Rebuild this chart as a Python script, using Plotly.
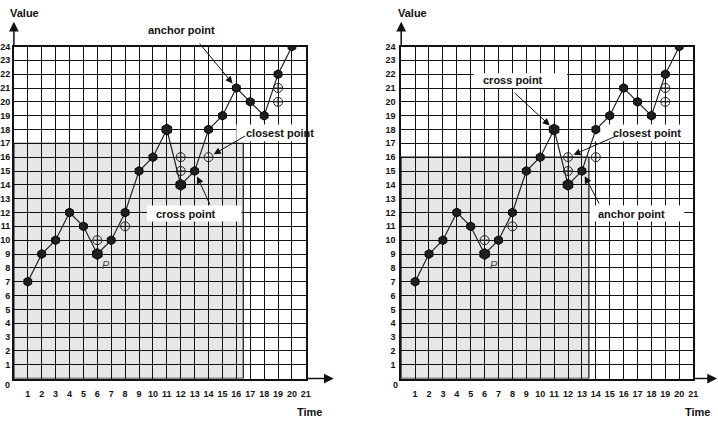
import plotly.graph_objects as go

# ---------------- data ----------------
time = list(range(1, 21))
values = [7, 9, 10, 12, 11, 9, 10, 12, 15, 16, 18, 14, 15, 18, 19, 21, 20, 19, 22, 24]
big_points = [6, 11, 12]          # time stamps drawn with a larger marker
cand_time = [6, 8, 12, 12, 14, 19, 19]
cand_value = [10, 11, 16, 15, 16, 21, 20]

x_ticks = list(range(1, 22))
y_ticks = list(range(1, 25))

# shaded region (time extent, value extent) for each panel
left_shade = (16.5, 17)
right_shade = (13.5, 16)

# annotations: (label, target time, target value, ax px, ay px)
left_notes = [("anchor point", 16, 21, -38, -46),
              ("closest point", 14, 16, 38, -22),
              ("cross point", 13, 15, 16, 35)]
right_notes = [("cross point", 11, 18, -41, -38),
               ("closest point", 12, 16, 50, -22),
               ("anchor point", 13, 15, 18, 34)]

W, H = 718, 422
FONT = "Liberation Sans, Arial, sans-serif"
UNIT = 14.0          # pixels per grid unit
ORIGIN_Y = 378


def px(x):
    return x / W


def py(y):
    return 1 - y / H


fig = go.Figure()

sizes = [11 if t in big_points else 9 for t in time]

for xa, ya in (("x", "y"), ("x2", "y2")):
    fig.add_trace(go.Scatter(
        x=cand_time, y=cand_value, mode="markers", xaxis=xa, yaxis=ya,
        marker=dict(symbol="circle-cross-open", size=9, color="#222",
                    line=dict(width=1, color="#222")),
        hoverinfo="skip", showlegend=False))
    fig.add_trace(go.Scatter(
        x=time, y=values, mode="lines+markers", xaxis=xa, yaxis=ya,
        line=dict(color="#222", width=1.2),
        marker=dict(symbol="hexagon", size=sizes, color="#1f1f1f", opacity=1,
                    line=dict(width=1, color="#000")),
        hoverinfo="skip", showlegend=False))

axis_common = dict(showgrid=True, gridcolor="#111", gridwidth=1.4,
                   showline=True, linecolor="#111", linewidth=1.5, mirror=True,
                   zeroline=False, ticks="", fixedrange=True,
                   tickfont=dict(family=FONT, size=9, color="#111", weight="bold"))

ydom = [(H - 378) / H, (H - 42) / H]
fig.update_layout(
    width=W, height=H,
    margin=dict(l=0, r=0, t=0, b=0),
    paper_bgcolor="white", plot_bgcolor="white",
    xaxis=dict(domain=[px(14), px(308)], range=[0, 21], tickvals=x_ticks,
               anchor="y", ticklabelstandoff=6, **axis_common),
    yaxis=dict(domain=ydom, range=[0, 24], tickvals=y_ticks,
               anchor="x", ticklabelstandoff=0, **axis_common),
    xaxis2=dict(domain=[px(404), px(698)], range=[0, 21], tickvals=x_ticks,
                anchor="y2", ticklabelstandoff=6, **axis_common),
    yaxis2=dict(domain=ydom, range=[0, 24], tickvals=y_ticks,
                anchor="x2", ticklabelstandoff=2, **axis_common),
)

# shaded regions
for (sx, sy), xr, yr in ((left_shade, "x", "y"), (right_shade, "x2", "y2")):
    fig.add_shape(type="rect", xref=xr, yref=yr, x0=0, y0=0, x1=sx, y1=sy,
                  fillcolor="#e6e6e6", line=dict(color="#222", width=1.3),
                  layer="below")

# white label boxes (pixel positions) - above the grid, below the data marks
boxes = [(14, "x", "y", (238, 121, 322, 138)), (14, "x", "y", (148, 203, 243, 219)),
         (404, "x2", "y2", (477, 69, 571, 84)), (404, "x2", "y2", (599, 121, 704, 138)),
         (404, "x2", "y2", (594, 203, 689, 219))]
for ox, xr, yr, (x0, y0, x1, y1) in boxes:
    fig.add_shape(type="rect", xref=xr, yref=yr,
                  x0=(x0 - ox) / UNIT, x1=(x1 - ox) / UNIT,
                  y0=(ORIGIN_Y - y1) / UNIT, y1=(ORIGIN_Y - y0) / UNIT,
                  fillcolor="white", line=dict(width=0), layer="between")

label_font = dict(family=FONT, size=11, color="#111", weight="bold")

# label text positions (pixel centres)
label_pos = {("L", "anchor point"): (183, 25), ("L", "closest point"): (282, 130),
             ("L", "cross point"): (187, 211), ("R", "cross point"): (517, 76),
             ("R", "closest point"): (652, 130), ("R", "anchor point"): (636, 211)}

for side, notes, xr, yr in (("L", left_notes, "x", "y"), ("R", right_notes, "x2", "y2")):
    for label, tx, ty, ax, ay in notes:
        fig.add_annotation(x=tx, y=ty, xref=xr, yref=yr, text="", showarrow=True,
                           ax=ax, ay=ay, arrowhead=2, arrowsize=1.4,
                           arrowwidth=1, arrowcolor="#111", standoff=6)
        cx, cy = label_pos[(side, label)]
        fig.add_annotation(x=px(cx), y=py(cy), xref="paper", yref="paper",
                           text=label, showarrow=False, font=label_font,
                           xanchor="center", yanchor="middle")

# axis arrows, titles, origin labels and P markers
for ox, tip_x, tx in ((14, 336, 312), (404, 726, 702)):
    fig.add_annotation(x=px(tip_x), y=py(378), xref="paper", yref="paper",
                       ax=-(tip_x - ox - 294), ay=0, text="", showarrow=True,
                       arrowhead=2, arrowsize=1.3, arrowwidth=1.5, arrowcolor="#111")
    fig.add_annotation(x=px(ox), y=py(17), xref="paper", yref="paper",
                       ax=0, ay=25, text="", showarrow=True,
                       arrowhead=2, arrowsize=1.3, arrowwidth=1.5, arrowcolor="#111")
    fig.add_annotation(x=px(tx), y=py(412), xref="paper", yref="paper",
                       text="Time", showarrow=False, font=label_font,
                       xanchor="center", yanchor="middle")
    fig.add_annotation(x=px(ox + 11), y=py(8), xref="paper", yref="paper",
                       text="Value", showarrow=False, font=label_font,
                       xanchor="center", yanchor="middle")
    fig.add_annotation(x=px(ox - 6), y=py(385), xref="paper", yref="paper",
                       text="0", showarrow=False,
                       font=dict(family=FONT, size=9, color="#111", weight="bold"),
                       xanchor="center", yanchor="middle")
    fig.add_annotation(x=px(ox + 93), y=py(263), xref="paper", yref="paper",
                       text="<i>P</i>", showarrow=False,
                       font=dict(family=FONT, size=11, color="#444"),
                       xanchor="center", yanchor="middle")

fig.write_html("out.html", config={"displayModeBar": False},
               post_script="document.body.style.margin='0';document.body.style.overflow='hidden';")
